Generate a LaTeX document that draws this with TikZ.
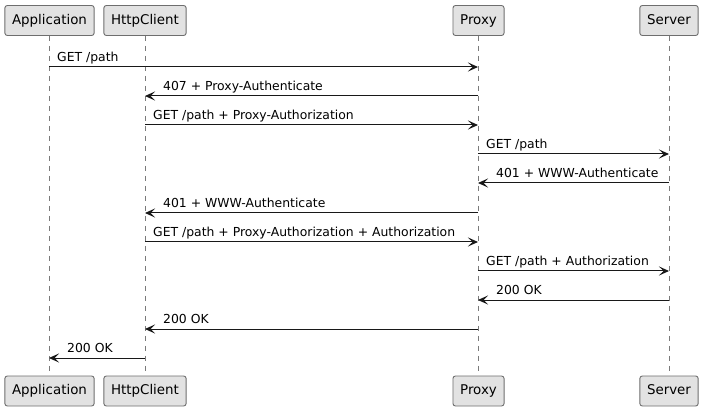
\documentclass[tikz,border=0pt]{standalone}
\usepackage{fontspec}
\setmainfont{DejaVu Sans}
\usetikzlibrary{arrows.meta}
\definecolor{boxfill}{HTML}{E2E2E2}
\definecolor{boxline}{HTML}{6E6E6E}
\definecolor{lifecol}{HTML}{7A7A7A}
\definecolor{msgcol}{HTML}{181818}
\tikzset{
  part/.style={draw=boxline, fill=boxfill, rounded corners=2.5pt, line width=0.9pt,
    minimum height=30pt, inner xsep=7.2pt, inner ysep=0pt, text height=10pt, text depth=2.5pt,
    font=\fontsize{13.4}{15}\selectfont},
  lifeline/.style={draw=lifecol, line width=0.8pt, dash pattern=on 5pt off 5pt},
  msg/.style={draw=msgcol, line width=1pt, -{Stealth[length=10pt,width=9pt,inset=4.5pt]}},
  lbl/.style={anchor=base west, inner sep=0pt, font=\fontsize{12.4}{14}\selectfont}
}
\begin{document}
\begin{tikzpicture}[x=1pt,y=-1pt]
\useasboundingbox[fill=white] (0,0) rectangle (703,411);
% participants
\node[part] (at) at (49.5,20.5) {Application};
\node[part] (ht) at (145,20.5) {HttpClient};
\node[part] (pt) at (478.5,20.5) {Proxy};
\node[part] (st) at (669,20.5) {Server};
\node[part] (ab) at (49.5,391) {Application};
\node[part] (hb) at (145,391) {HttpClient};
\node[part] (pb) at (478.5,391) {Proxy};
\node[part] (sb) at (669,391) {Server};
% lifelines
\coordinate (A) at (49,0);
\coordinate (H) at (145,0);
\coordinate (P) at (478,0);
\coordinate (S) at (669,0);
\draw[lifeline] (A |- at.south) -- (A |- ab.north);
\draw[lifeline] (H |- ht.south) -- (H |- hb.north);
\draw[lifeline] (P |- pt.south) -- (P |- pb.north);
\draw[lifeline] (S |- st.south) -- (S |- sb.north);
% messages: right-pointing (label near source)
\foreach \f/\t/\y/\txt in {
  A/P/67/{GET /path},
  H/P/125/{GET /path + Proxy-Authorization},
  P/S/154/{GET /path},
  H/P/242/{GET /path + Proxy-Authorization + Authorization},
  P/S/271/{GET /path + Authorization}}{
  \draw[msg] (\f |- 0,\y) -- (\t |- 0,\y);
  \node[lbl] at ([xshift=8pt,yshift=5.5pt]\f |- 0,\y) {\txt};
}
% messages: left-pointing (label near target)
\foreach \f/\t/\y/\txt in {
  P/H/96/{407 + Proxy-Authenticate},
  S/P/183/{401 + WWW-Authenticate},
  P/H/213/{401 + WWW-Authenticate},
  S/P/300/{200 OK},
  P/H/329/{200 OK},
  H/A/358/{200 OK}}{
  \draw[msg] (\f |- 0,\y) -- (\t |- 0,\y);
  \node[lbl] at ([xshift=18pt,yshift=5.5pt]\t |- 0,\y) {\txt};
}
\end{tikzpicture}
\end{document}
